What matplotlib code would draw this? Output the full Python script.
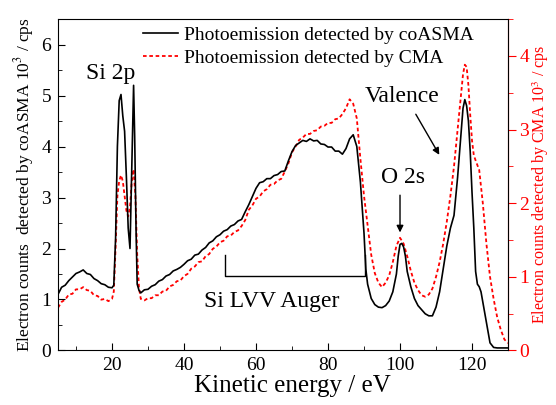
import matplotlib
matplotlib.use("Agg")
import matplotlib.pyplot as plt
from matplotlib.ticker import MultipleLocator

plt.rcParams['font.family'] = ['Liberation Serif', 'DejaVu Serif']
plt.rcParams['mathtext.fontset'] = 'stix'

# coASMA (black, left axis) -- kinetic energy (eV) and counts (10^3 cps)
e_coasma = [5, 6, 7, 8, 9, 10, 11, 12, 13, 14, 15, 16, 17, 18, 19, 20, 20.5, 21, 21.5, 22, 22.5,
            23, 23.5, 24, 24.5, 25, 25.5, 26, 26.3, 26.7, 27, 27.5, 28, 29, 30, 31, 32, 33, 34,
            35, 36, 37, 38, 39, 40, 41, 42, 43, 44, 45, 46, 47, 48, 49, 50, 51, 52, 53, 54, 55,
            56, 57, 58, 59, 60, 61, 62, 63, 64, 65, 66, 67, 68, 69, 70, 71, 72, 73, 74, 75, 76,
            77, 78, 79, 80, 81, 82, 83, 84, 85, 86, 87, 88, 89, 90, 90.5, 91, 92, 93, 94, 95, 96,
            97, 98, 99, 99.5, 100, 100.5, 101, 101.5, 102, 103, 104, 105, 106, 107, 108, 109, 110,
            111, 112, 113, 114, 115, 116, 117, 117.5, 118, 118.5, 119, 119.5, 120, 120.5, 121,
            121.5, 122, 122.5, 123, 124, 125, 126, 127, 128, 129, 130]
i_coasma = [1.10, 1.24, 1.28, 1.37, 1.44, 1.51, 1.54, 1.58, 1.51, 1.49, 1.41, 1.37, 1.31, 1.29,
            1.24, 1.23, 1.28, 2.2, 4.0, 4.9, 5.02, 4.6, 4.3, 3.4, 2.4, 2.0, 3.6, 5.2, 4.2, 2.3,
            1.3, 1.18, 1.13, 1.19, 1.2, 1.26, 1.29, 1.36, 1.39, 1.46, 1.49, 1.56, 1.59, 1.63,
            1.69, 1.76, 1.79, 1.87, 1.89, 1.97, 2.02, 2.11, 2.15, 2.23, 2.27, 2.34, 2.37, 2.44,
            2.47, 2.54, 2.57, 2.72, 2.86, 3.02, 3.18, 3.29, 3.31, 3.37, 3.37, 3.43, 3.45, 3.51,
            3.52, 3.72, 3.9, 4.02, 4.07, 4.12, 4.1, 4.15, 4.11, 4.12, 4.05, 4.04, 3.99, 3.99,
            3.91, 3.91, 3.85, 3.96, 4.15, 4.23, 4.0, 3.3, 2.3, 1.6, 1.3, 1.02, 0.9, 0.85, 0.84,
            0.88, 0.97, 1.15, 1.5, 1.85, 2.08, 2.1, 2.03, 1.85, 1.55, 1.25, 1.02, 0.88, 0.8, 0.72,
            0.68, 0.68, 0.85, 1.15, 1.6, 2.05, 2.4, 2.65, 3.4, 4.3, 4.75, 4.92, 4.8, 4.5, 3.9,
            3.1, 2.4, 1.55, 1.3, 1.25, 1.15, 0.95, 0.55, 0.15, 0.06, 0.05, 0.05, 0.05, 0.05]

# CMA (red, right axis)
e_cma = [5, 6, 7, 8, 9, 10, 11, 12, 13, 14, 15, 16, 17, 18, 19, 20, 20.5, 21, 21.5, 22, 22.5, 23,
         23.5, 24, 24.5, 25, 25.5, 26, 26.5, 27, 27.5, 28, 29, 30, 31, 32, 33, 34, 35, 36, 37,
         38, 39, 40, 41, 42, 43, 44, 45, 46, 47, 48, 49, 50, 51, 52, 53, 54, 55, 56, 57, 58, 59,
         60, 61, 62, 63, 64, 65, 66, 67, 68, 69, 70, 71, 72, 73, 74, 75, 76, 77, 78, 79, 80, 81,
         82, 83, 84, 85, 86, 87, 88, 89, 90, 91, 92, 93, 94, 95, 96, 97, 98, 99, 100, 101, 102,
         103, 104, 105, 106, 107, 108, 109, 110, 111, 112, 113, 114, 115, 116, 117, 117.5, 118,
         118.5, 119, 119.5, 120, 120.5, 121, 122, 123, 124, 125, 126, 127, 128, 129, 130]
i_cma = [0.58, 0.66, 0.69, 0.76, 0.77, 0.83, 0.83, 0.86, 0.82, 0.81, 0.75, 0.74, 0.69, 0.70, 0.67,
         0.70, 0.8, 1.4, 2.1, 2.3, 2.38, 2.3, 2.1, 1.9, 1.82, 1.95, 2.3, 2.46, 2.1, 1.3, 0.85,
         0.7, 0.68, 0.71, 0.71, 0.75, 0.75, 0.8, 0.81, 0.87, 0.89, 0.94, 0.95, 1.01, 1.04, 1.11,
         1.14, 1.2, 1.21, 1.28, 1.31, 1.38, 1.41, 1.47, 1.49, 1.55, 1.56, 1.61, 1.63, 1.69,
         1.77, 1.91, 1.97, 2.06, 2.09, 2.16, 2.19, 2.25, 2.26, 2.31, 2.33, 2.43, 2.54, 2.69,
         2.77, 2.86, 2.89, 2.94, 2.94, 2.98, 2.99, 3.04, 3.05, 3.09, 3.09, 3.14, 3.15, 3.21,
         3.29, 3.41, 3.35, 3.15, 2.6, 2.1, 1.7, 1.3, 1.05, 0.92, 0.86, 0.92, 1.02, 1.2, 1.42,
         1.53, 1.45, 1.28, 1.08, 0.92, 0.82, 0.75, 0.73, 0.76, 0.84, 1.0, 1.2, 1.45, 1.75, 2.1,
         2.5, 3.0, 3.5, 3.75, 3.88, 3.85, 3.6, 3.2, 2.85, 2.65, 2.58, 2.45, 2.0, 1.45, 1.0, 0.7,
         0.45, 0.28, 0.15, 0.1]

fig = plt.figure(figsize=(5.56, 4.05), dpi=100)
ax = fig.add_axes([0.1043, 0.1346, 0.8094, 0.8184])
ax2 = ax.twinx()

red_style = dict(color='red', linestyle=(0, (2, 1.5)), linewidth=1.3)
ax2.plot(e_cma, i_cma, **red_style)
l1, = ax.plot(e_coasma, i_coasma, color='black', linewidth=1.2)
ax.set_zorder(ax2.get_zorder() + 1)
ax.patch.set_visible(False)
l2, = ax.plot([], [], **red_style)

ax.set_xlim(5, 130)
ax.set_ylim(0, 6.5)
ax2.set_ylim(0, 4.5)

ax.xaxis.set_major_locator(MultipleLocator(20))
ax.xaxis.set_minor_locator(MultipleLocator(10))
ax.yaxis.set_major_locator(MultipleLocator(1))
ax.yaxis.set_minor_locator(MultipleLocator(0.5))
ax2.yaxis.set_major_locator(MultipleLocator(1))
ax2.yaxis.set_minor_locator(MultipleLocator(0.5))

ax.tick_params(axis='both', which='major', direction='in', length=5, labelsize=14, pad=5)
ax.tick_params(axis='both', which='minor', direction='in', length=3)
ax.tick_params(axis='y', right=False)
ax.tick_params(axis='x', top=False)
ax2.tick_params(axis='y', which='major', direction='out', length=6, colors='red', labelsize=14, pad=2)
ax2.tick_params(axis='y', which='minor', direction='out', length=3.5, colors='red')
ax2.spines['right'].set_color('red')
for s in ['left', 'top', 'bottom']:
    ax2.spines[s].set_visible(False)

ax.set_xlabel('Kinetic energy / eV', fontsize=18, labelpad=0)
ax.xaxis.set_label_coords(0.52, -0.075)
ax.set_ylabel('Electron counts  detected by coASMA 10$^3$ / cps', fontsize=12.5, labelpad=4)
ax2.set_ylabel('Electron counts detected by CMA 10$^3$ / cps', fontsize=11.5, color='red', labelpad=1)

ax.legend([l1, l2], ['Photoemission detected by coASMA', 'Photoemission detected by CMA'],
          loc='upper left', bbox_to_anchor=(0.15, 1.03), frameon=False, fontsize=14,
          handlelength=1.8, handletextpad=0.3, labelspacing=0.28)

ax.text(19.5, 5.44, 'Si 2p', fontsize=17, ha='center', va='center')
ax.text(100.7, 4.99, 'Valence', fontsize=17, ha='center', va='center')
ax.annotate('', xy=(111.3, 3.79), xytext=(104, 4.68),
            arrowprops=dict(arrowstyle='-|>', color='black', lw=1.0, mutation_scale=10))
ax.text(100.7, 3.40, 'O 2s', fontsize=17, ha='center', va='center')
ax.annotate('', xy=(100, 2.26), xytext=(100, 3.1),
            arrowprops=dict(arrowstyle='-|>', color='black', lw=1.0, mutation_scale=10))
ax.plot([51.3, 51.3, 90.4, 90.4], [1.87, 1.46, 1.46, 1.87], color='black', lw=1.0)
ax.text(64.4, 0.97, 'Si LVV Auger', fontsize=17, ha='center', va='center')

fig.savefig('out.png', dpi=100)
